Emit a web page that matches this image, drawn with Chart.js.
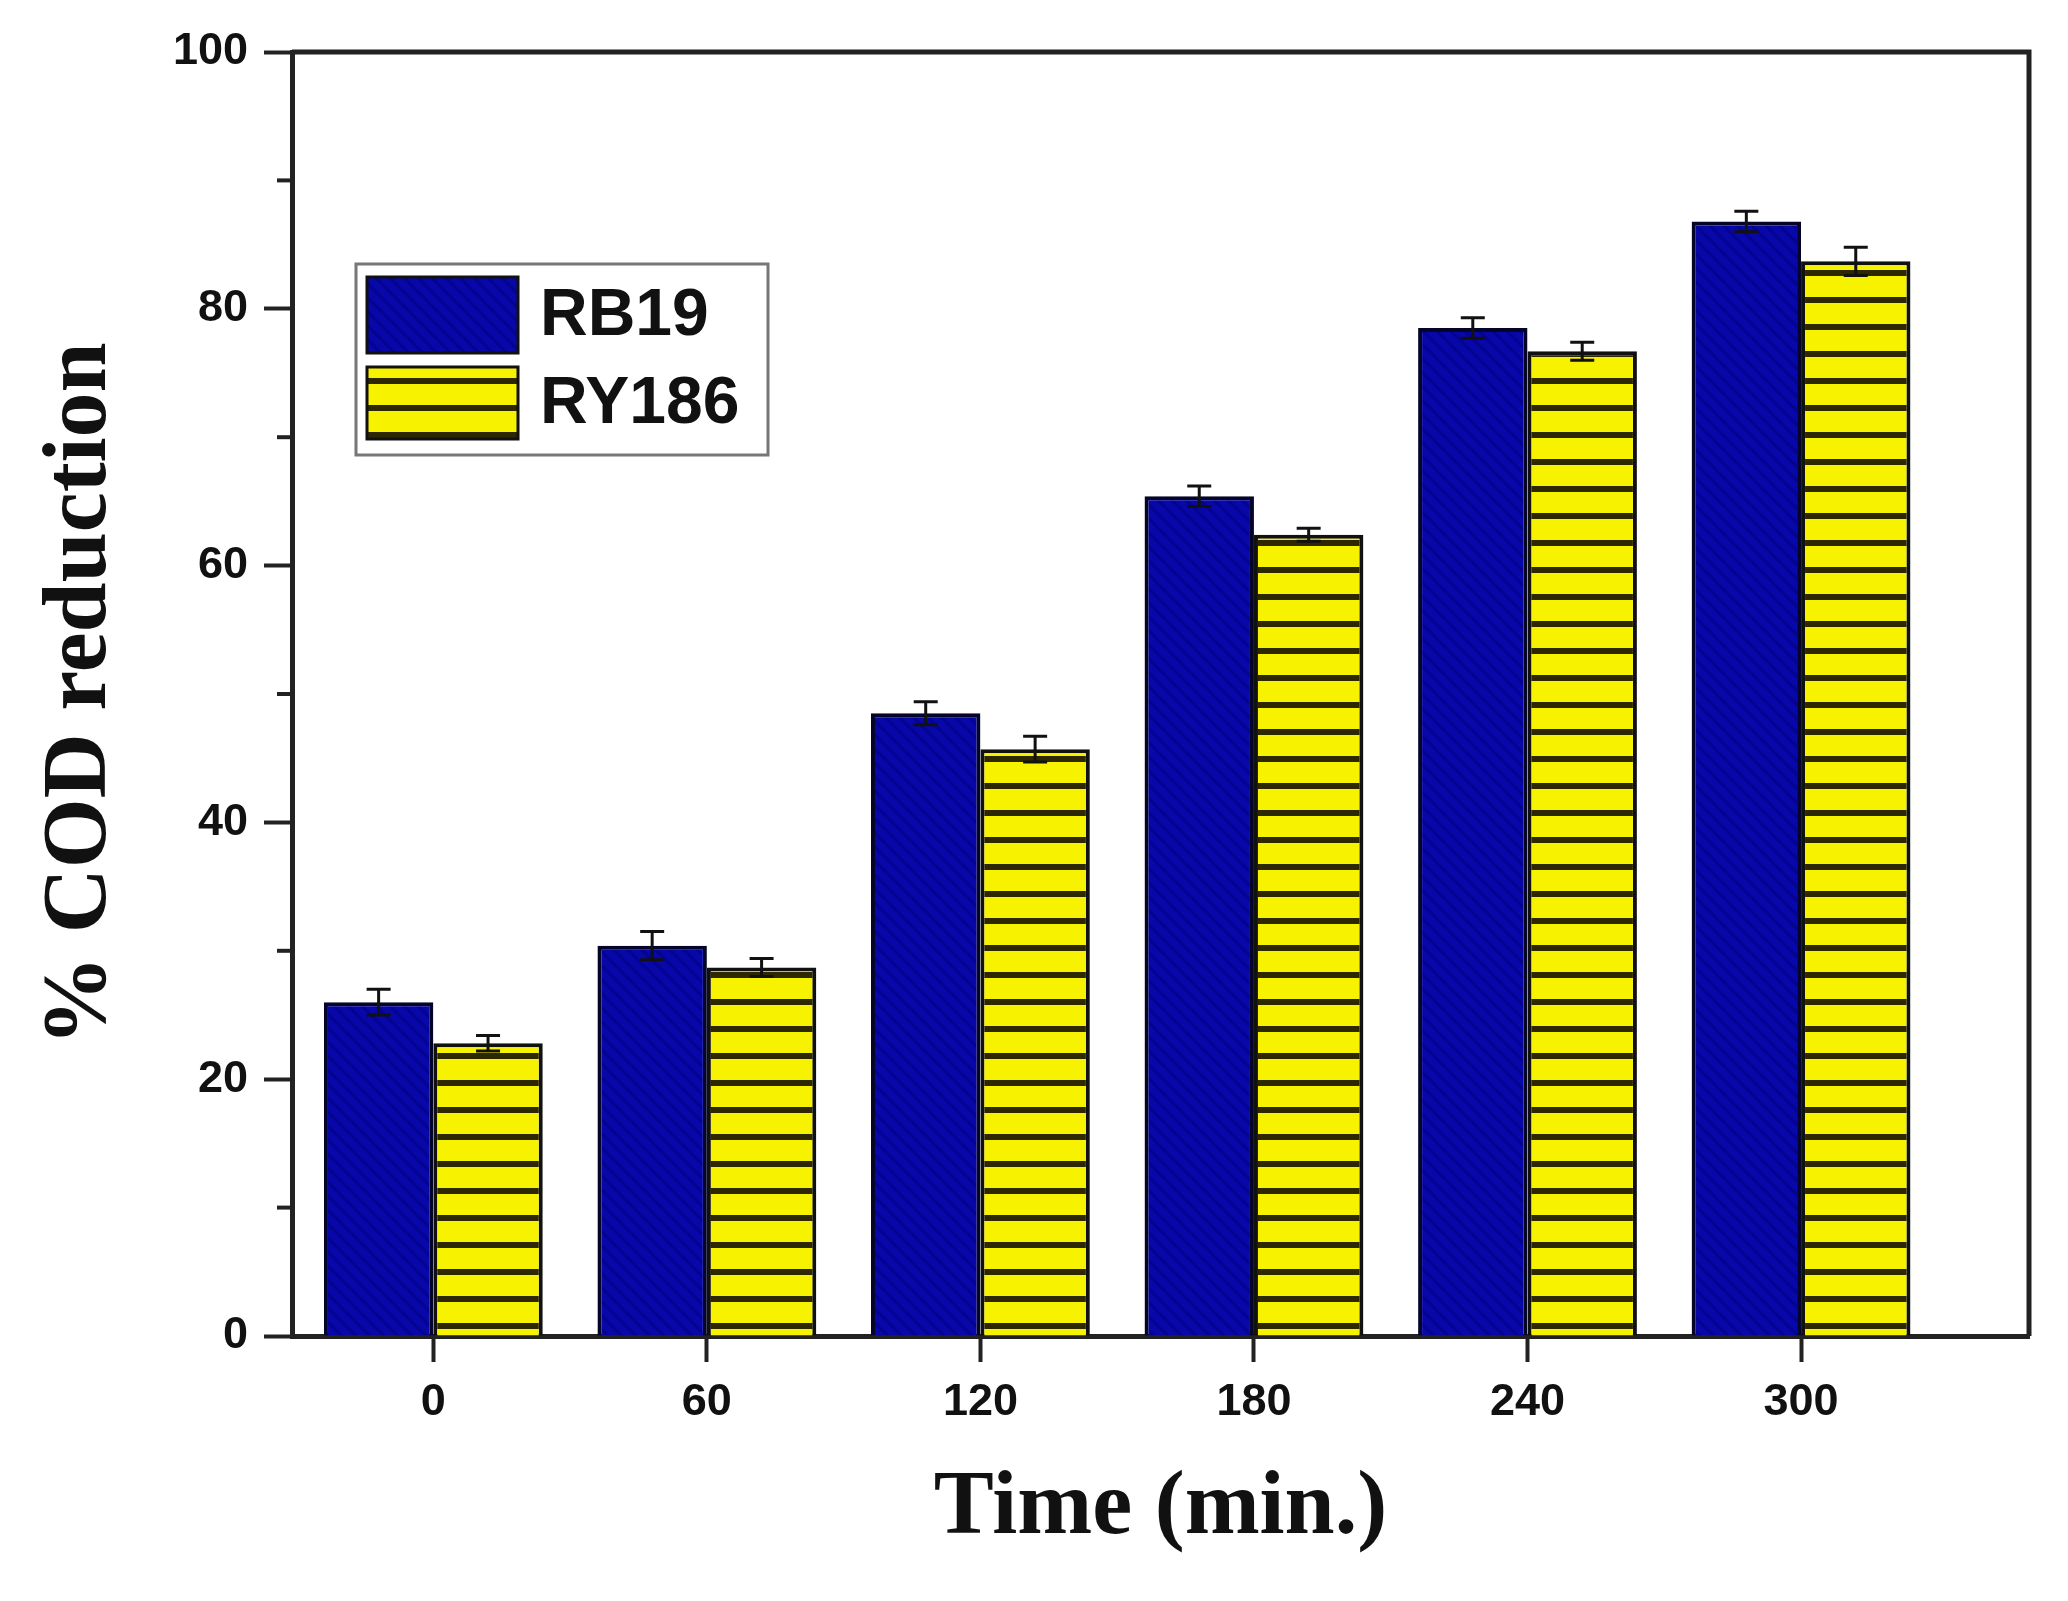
<!DOCTYPE html>
<html>
<head>
<meta charset="utf-8">
<script src="https://cdn.jsdelivr.net/npm/chart.js@4"></script>
<style>html,body{margin:0;padding:0;background:#fff}</style>
</head>
<body>
<canvas id="cod" width="2068" height="1601"></canvas>
<script>
// data
var times = [0, 60, 120, 180, 240, 300];
var rb19 = [26.0, 30.4, 48.5, 65.4, 78.5, 86.8];
var rb19Err = [1.0, 1.1, 0.9, 0.8, 0.8, 0.8];
var ry186 = [22.8, 28.7, 45.7, 62.4, 76.7, 83.7];
var ry186Err = [0.6, 0.7, 1.0, 0.5, 0.7, 1.1];
var yTicks = [0, 20, 40, 60, 80, 100];
var yMinor = [10, 30, 50, 70, 90];

var ctx = document.getElementById("cod").getContext("2d");

// fill patterns
function bluePattern() {
    var c = document.createElement('canvas');
    c.width = 14; c.height = 14;
    var g = c.getContext('2d');
    g.fillStyle = '#0707aa';
    g.fillRect(0, 0, 14, 14);
    g.strokeStyle = '#04048f';
    g.lineWidth = 3;
    g.beginPath();
    g.moveTo(0, 0); g.lineTo(14, 14);
    g.moveTo(-7, 7); g.lineTo(7, 21);
    g.moveTo(7, -7); g.lineTo(21, 7);
    g.stroke();
    return ctx.createPattern(c, 'repeat');
}
function yellowPattern() {
    var c = document.createElement('canvas');
    c.width = 8; c.height = 27;
    var g = c.getContext('2d');
    g.fillStyle = '#f6f200';
    g.fillRect(0, 0, 8, 27);
    g.fillStyle = '#2e2800';
    g.fillRect(0, 0, 8, 6);
    return ctx.createPattern(c, 'repeat');
}
var blueFill = bluePattern();
var yellowFill = yellowPattern();

function pts(vals) {
    return times.map(function (t, i) { return {x: t, y: vals[i]}; });
}

// error bars through the y scale
var errorBars = {
    id: 'errorBars',
    afterDatasetsDraw: function (chart) {
        var c = chart.ctx, y = chart.scales.y;
        var errs = [rb19Err, ry186Err];
        c.save();
        c.strokeStyle = '#111';
        c.lineWidth = 3;
        chart.data.datasets.forEach(function (ds, i) {
            chart.getDatasetMeta(i).data.forEach(function (bar, j) {
                var v = ds.data[j].y, e = errs[i][j];
                var top = y.getPixelForValue(v + e), bot = y.getPixelForValue(v - e);
                c.beginPath();
                c.moveTo(bar.x, top); c.lineTo(bar.x, bot);
                c.moveTo(bar.x - 12, top); c.lineTo(bar.x + 12, top);
                c.moveTo(bar.x - 12, bot); c.lineTo(bar.x + 12, bot);
                c.stroke();
            });
        });
        c.restore();
    }
};

// frame, minor ticks and the boxed legend
var frame = {
    id: 'frame',
    afterDraw: function (chart) {
        var c = chart.ctx, a = chart.chartArea, y = chart.scales.y;
        c.save();
        c.strokeStyle = '#222';
        c.lineWidth = 5;
        c.beginPath();
        c.moveTo(a.left, a.top); c.lineTo(a.right, a.top); c.lineTo(a.right, a.bottom);
        c.stroke();
        c.lineWidth = 4;
        yMinor.forEach(function (v) {
            var p = y.getPixelForValue(v);
            c.beginPath(); c.moveTo(a.left - 15, p); c.lineTo(a.left, p); c.stroke();
        });

        // legend
        var bx = a.left + 64, by = a.top + 212, bw = 412, bh = 191;
        c.fillStyle = '#fff';
        c.fillRect(bx, by, bw, bh);
        c.strokeStyle = '#777';
        c.lineWidth = 3;
        c.strokeRect(bx, by, bw, bh);
        var fills = [blueFill, yellowFill];
        var rows = [[13, 76], [103, 72]];
        c.font = 'bold 66px "Liberation Sans", Arial, sans-serif';
        c.textBaseline = 'middle';
        chart.data.datasets.forEach(function (ds, i) {
            c.fillStyle = fills[i];
            c.fillRect(bx + 11, by + rows[i][0], 151, rows[i][1]);
            c.strokeStyle = '#111';
            c.lineWidth = 3;
            c.strokeRect(bx + 11, by + rows[i][0], 151, rows[i][1]);
            c.fillStyle = '#111';
            c.fillText(ds.label, bx + 184, by + rows[i][0] + rows[i][1] / 2 + 2);
        });
        c.restore();
    }
};

var codChart = new Chart(ctx, {
    type: 'bar',
    data: {
        datasets: [{
            label: 'RB19',
            data: pts(rb19),
            backgroundColor: blueFill,
            borderColor: '#05052a',
            borderWidth: 4
        }, {
            label: 'RY186',
            data: pts(ry186),
            backgroundColor: yellowFill,
            borderColor: '#111',
            borderWidth: 4
        }]
    },
    options: {
        responsive: false,
        animation: false,
        devicePixelRatio: 1,
        barPercentage: 1.0,
        categoryPercentage: 0.8,
        layout: {padding: {left: 0, right: 39, top: 52, bottom: 0}},
        plugins: {
            legend: {display: false},
            tooltip: {enabled: false}
        },
        scales: {
            x: {
                type: 'linear',
                min: -31,
                max: 350,
                offset: false,
                afterBuildTicks: function (s) {
                    s.ticks = times.map(function (t) { return {value: t}; });
                },
                afterFit: function (s) { s.height = 265; },
                grid: {
                    offset: false,
                    drawOnChartArea: false,
                    tickLength: 26,
                    tickWidth: 4,
                    tickColor: '#222'
                },
                border: {display: true, width: 5, color: '#222'},
                ticks: {
                    padding: 14,
                    color: '#111',
                    maxRotation: 0,
                    font: {family: '"Liberation Sans", Arial, sans-serif', size: 45, weight: 'bold'}
                },
                title: {
                    display: true,
                    text: 'Time (min.)',
                    color: '#111',
                    padding: {top: 0, bottom: 37},
                    font: {family: '"Liberation Serif", "Times New Roman", serif', size: 90, weight: 'bold'}
                }
            },
            y: {
                min: 0,
                max: 100,
                afterBuildTicks: function (s) {
                    s.ticks = yTicks.map(function (v) { return {value: v}; });
                },
                afterFit: function (s) { s.width = 292; },
                grid: {
                    drawOnChartArea: false,
                    tickLength: 28,
                    tickWidth: 4,
                    tickColor: '#222'
                },
                border: {display: true, width: 5, color: '#222'},
                ticks: {
                    padding: 16,
                    color: '#111',
                    font: {family: '"Liberation Sans", Arial, sans-serif', size: 45, weight: 'bold'}
                },
                title: {
                    display: true,
                    text: '% COD reduction',
                    color: '#111',
                    padding: {top: 28, bottom: 0},
                    font: {family: '"Liberation Serif", "Times New Roman", serif', size: 90, weight: 'bold'}
                }
            }
        }
    },
    plugins: [errorBars, frame]
});
</script>
</body>
</html>
